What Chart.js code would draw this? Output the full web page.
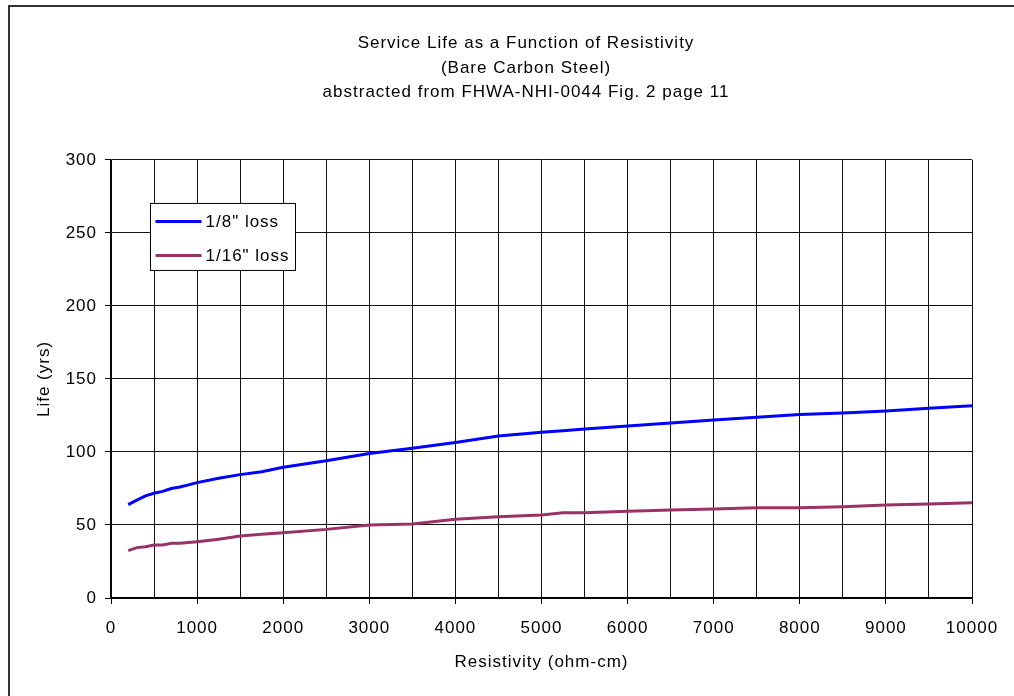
<!DOCTYPE html>
<html>
<head>
<meta charset="utf-8">
<script src="https://cdn.jsdelivr.net/npm/chart.js@4"></script>
<style>
html,body{margin:0;padding:0;background:#fff;overflow:hidden;}
#wrap{width:1050px;height:696px;}
</style>
</head>
<body>
<div id="wrap"><canvas id="c" width="1050" height="696" style="width:1050px;height:696px"></canvas></div>
<script>
// ---- data ----
const titleLines = ["Service Life as a Function of Resistivity", "(Bare Carbon Steel)", "abstracted from FHWA-NHI-0044 Fig. 2 page 11"];
const xTitle = "Resistivity (ohm-cm)";
const yTitle = "Life (yrs)";
const seriesNames = ["1/8\" loss", "1/16\" loss"];
const resistivity = [200, 300, 400, 500, 600, 700, 800, 900, 1000, 1250, 1500, 1750, 2000, 2500, 3000, 3500, 4000, 4500, 5000, 5250, 5500, 6000, 6500, 7000, 7500, 8000, 8500, 9000, 9500, 10000];
const lifeEighth = [64, 67, 70, 71.7, 73, 75, 76, 77.5, 79, 82, 84.5, 86.5, 89.5, 94, 99, 102.5, 106.5, 111, 113.5, 114.6, 115.8, 117.8, 119.8, 121.9, 123.8, 125.6, 126.7, 128.1, 129.9, 131.7];
const lifeSixteenth = [32.4, 34.5, 35.1, 36.3, 36.3, 37.5, 37.5, 38, 38.6, 40.2, 42.5, 43.6, 44.7, 47, 50, 50.7, 54, 55.7, 56.8, 58.4, 58.4, 59.4, 60.2, 61, 61.8, 61.8, 62.5, 63.7, 64.4, 65.3];
const xTickLabels = ["0","1000","2000","3000","4000","5000","6000","7000","8000","9000","10000"];
const yTickLabels = ["0","50","100","150","200","250","300"];

const seriesColors = ["#0000FF", "#993366"];
const FONT = "'Liberation Sans', Arial, sans-serif";
const SPACING = '1px';

const toXY = (xs, ys) => xs.map((x, i) => ({x: x, y: ys[i]}));

const spacing = {
  id: 'spacing',
  beforeLayout(chart) { chart.ctx.letterSpacing = SPACING; },
  beforeDraw(chart) { chart.ctx.letterSpacing = SPACING; }
};

// centre the title block over the (wider, cropped) chart object
const titleShift = {
  id: 'titleShift',
  afterLayout(chart) {
    if (chart.titleBlock) { chart.titleBlock.left = 0; chart.titleBlock.right = 1052; }
  }
};

const frame = {
  id: 'frame',
  beforeDraw(chart) {
    const ctx = chart.ctx;
    ctx.save();
    ctx.fillStyle = '#fff';
    ctx.fillRect(0, 0, chart.width, chart.height);
    ctx.strokeStyle = '#333';
    ctx.lineWidth = 2;
    ctx.strokeRect(9, 6, 1200, 900);
    ctx.restore();
  }
};

const legendBox = {
  id: 'legendBox',
  afterDatasetsDraw(chart) {
    const ctx = chart.ctx;
    const a = chart.chartArea;
    const bx = a.left + 39.5, by = a.top + 43.5, bw = 145, bh = 67;
    ctx.save();
    ctx.fillStyle = '#fff';
    ctx.fillRect(bx, by, bw, bh);
    ctx.strokeStyle = '#000';
    ctx.lineWidth = 1;
    ctx.strokeRect(bx, by, bw, bh);
    ctx.font = "17px " + FONT;
    ctx.textBaseline = 'middle';
    ctx.textAlign = 'left';
    chart.data.datasets.forEach((ds, i) => {
      const y = by + 18 + i * 34;
      ctx.strokeStyle = ds.borderColor;
      ctx.lineWidth = 3;
      ctx.beginPath();
      ctx.moveTo(bx + 5, y);
      ctx.lineTo(bx + 51, y);
      ctx.stroke();
      ctx.fillStyle = '#000';
      ctx.fillText(ds.label, bx + 55, y + 1);
    });
    ctx.restore();
  }
};

new Chart(document.getElementById('c'), {
  type: 'line',
  data: {
    datasets: [
      {label: seriesNames[0], data: toXY(resistivity, lifeEighth), borderColor: seriesColors[0], backgroundColor: seriesColors[0], borderWidth: 3, pointRadius: 0, tension: 0, fill: false},
      {label: seriesNames[1], data: toXY(resistivity, lifeSixteenth), borderColor: seriesColors[1], backgroundColor: seriesColors[1], borderWidth: 3, pointRadius: 0, tension: 0, fill: false}
    ]
  },
  options: {
    responsive: false,
    animation: false,
    layout: {padding: {left: 0, right: 78, top: 0, bottom: 0}},
    plugins: {
      legend: {display: false},
      tooltip: {enabled: false},
      title: {
        display: true,
        text: titleLines,
        color: '#000',
        font: {family: FONT, size: 17, weight: 'normal', lineHeight: 1.45},
        padding: {top: 31, bottom: 55}
      }
    },
    scales: {
      x: {
        type: 'linear',
        min: 0, max: 10000,
        afterFit(s) { s.height = 98; },
        ticks: {
          stepSize: 500, autoSkip: false, maxRotation: 0, padding: 14,
          color: '#000', font: {family: FONT, size: 17},
          callback: (v) => { const i = xTickLabels.indexOf(String(v)); return i >= 0 ? xTickLabels[i] : ''; }
        },
        grid: {
          color: '#111', lineWidth: 1, tickLength: 6,
          tickColor: (c) => (c.tick && c.tick.value % 1000 === 0) ? '#000' : 'rgba(0,0,0,0)'
        },
        border: {color: '#000', width: 1.5},
        title: {display: true, text: xTitle, color: '#000', font: {family: FONT, size: 17}, padding: {top: 0, bottom: 23}}
      },
      y: {
        type: 'linear',
        min: 0, max: 300,
        afterFit(s) { s.width = 111; },
        ticks: {
          stepSize: 50, padding: 8, color: '#000', font: {family: FONT, size: 17},
          callback: (v) => { const i = yTickLabels.indexOf(String(v)); return i >= 0 ? yTickLabels[i] : ''; }
        },
        grid: {color: '#111', lineWidth: 1, tickLength: 6, tickColor: '#000'},
        border: {color: '#000', width: 1.5},
        title: {display: true, text: yTitle, color: '#000', font: {family: FONT, size: 17}, padding: {top: 34, bottom: 0}}
      }
    }
  },
  plugins: [spacing, titleShift, frame, legendBox]
});
</script>
</body>
</html>
